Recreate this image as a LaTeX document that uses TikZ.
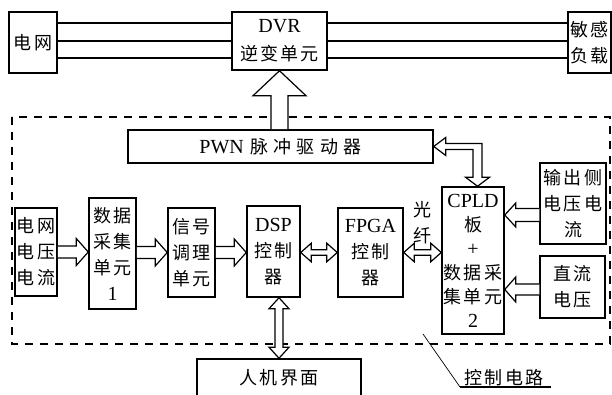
\documentclass[tikz,border=0pt]{standalone}
\usepackage{fontspec}
\setmainfont{Liberation Serif}
\newfontfamily\cjk[LetterSpace=12]{Noto Sans CJK SC}
\usetikzlibrary{calc}
\newcommand\lat[1]{{\rmfamily\fontsize{20}{26}\selectfont #1}}
% single arrows (canvas, y up)
\newcommand\arrR[5]{\draw[harr] let \p1=(#1),\p2=(#2) in (\x1,\y1+#3pt) -- (\x2-#5pt,\y1+#3pt) -- (\x2-#5pt,\y1+#4pt) -- (\x2,\y1) -- (\x2-#5pt,\y1-#4pt) -- (\x2-#5pt,\y1-#3pt) -- (\x1,\y1-#3pt);}
\newcommand\arrL[5]{\draw[harr] let \p1=(#1),\p2=(#2) in (\x1,\y1+#3pt) -- (\x2+#5pt,\y1+#3pt) -- (\x2+#5pt,\y1+#4pt) -- (\x2,\y1) -- (\x2+#5pt,\y1-#4pt) -- (\x2+#5pt,\y1-#3pt) -- (\x1,\y1-#3pt);}
\newcommand\arrU[5]{\draw[harr] let \p1=(#1),\p2=(#2) in (\x1+#3pt,\y1) -- (\x1+#3pt,\y2-#5pt) -- (\x1+#4pt,\y2-#5pt) -- (\x1,\y2) -- (\x1-#4pt,\y2-#5pt) -- (\x1-#3pt,\y2-#5pt) -- (\x1-#3pt,\y1);}
\newcommand\dblH[5]{\draw[harr] let \p1=(#1),\p2=(#2) in (\x1,\y1) -- (\x1+#5pt,\y1+#4pt) -- (\x1+#5pt,\y1+#3pt) -- (\x2-#5pt,\y1+#3pt) -- (\x2-#5pt,\y1+#4pt) -- (\x2,\y1) -- (\x2-#5pt,\y1-#4pt) -- (\x2-#5pt,\y1-#3pt) -- (\x1+#5pt,\y1-#3pt) -- (\x1+#5pt,\y1-#4pt) -- cycle;}
\newcommand\dblV[5]{\draw[harr] let \p1=(#1),\p2=(#2) in (\x1,\y1) -- (\x1+#4pt,\y1-#5pt) -- (\x1+#3pt,\y1-#5pt) -- (\x1+#3pt,\y2+#5pt) -- (\x1+#4pt,\y2+#5pt) -- (\x1,\y2) -- (\x1-#4pt,\y2+#5pt) -- (\x1-#3pt,\y2+#5pt) -- (\x1-#3pt,\y1-#5pt) -- (\x1-#4pt,\y1-#5pt) -- cycle;}
\tikzset{
  box/.style={draw, line width=1.5pt, rectangle, inner sep=0pt, align=center,
    font=\cjk\fontsize{18}{26}\selectfont},
  lbl/.style={inner sep=0pt, align=center, font=\cjk\fontsize{18}{26}\selectfont},
  harr/.style={draw, fill=white, line width=1.2pt, line join=miter},
  bus/.style={line width=1.8pt},
  dashbox/.style={line width=1.6pt, dash pattern=on 8pt off 7pt},
}
\begin{document}
\begin{tikzpicture}[x=1pt,y=1pt]
\useasboundingbox (0,0) rectangle (612,395);
% control circuit region
\draw[dashbox] (12,278) rectangle (610,51);
% top row
\node[box, minimum width=48pt, minimum height=61pt] (grid) at (33,352.5) {电网};
\node[box, minimum width=95pt, minimum height=58pt] (dvr) at (279.5,354) {\lat{DVR}\\[2pt]逆变单元};
\node[box, minimum width=43pt, minimum height=61pt] (load) at (589.5,352.5) {敏感\\负载};
\foreach \d/\n in {18/l1,0/l2,-17/l3}{
  \coordinate (\n) at ($(dvr.west)+(0,\d)$);
  \draw[bus] (\n -| grid.east) -- (\n);
  \draw[bus] (\n -| dvr.east) -- (\n -| load.west);
}
% control blocks
\node[box, minimum width=305pt, minimum height=33pt] (pwm) at (280.5,248.5) {\lat{PWN} \addfontfeature{LetterSpace=30}脉冲驱动器};
\node[box, minimum width=42pt, minimum height=88pt] (gv) at (36,143) {电网\\电压\\电流};
\node[box, minimum width=47pt, minimum height=111pt] (daq1) at (112.5,141.5) {数据\\采集\\单元\\\lat{1}};
\node[box, minimum width=47pt, minimum height=89pt] (sig) at (191.5,142.5) {信号\\调理\\单元};
\node[box, minimum width=53pt, minimum height=91pt] (dsp) at (273.5,143.5) {\lat{DSP}\\控制\\器};
\node[box, minimum width=65pt, minimum height=89pt] (fpga) at (370.5,142.5) {\lat{FPGA}\\控制\\器};
\node[box, minimum width=62pt, minimum height=147pt, font=\cjk\fontsize{18}{24}\selectfont] (cpld) at (473,134.5) {\lat{CPLD}\\板\\\lat{+}\\数据采\\集单元\\\lat{2}};
\node[box, minimum width=66pt, minimum height=81pt] (outv) at (573,191.5) {输出侧\\电压电\\流};
\node[box, minimum width=65pt, minimum height=62pt] (dcv) at (572.5,108) {直流\\电压};
\node[box, minimum width=164pt, minimum height=38pt] (hmi) at (279,17) {人机界面};
\node[lbl] (fiber) at (422,172) {光\\纤};
\node[lbl] (ctrl) at (504,17) {控制电路};
% arrows
\arrU{dvr.south |- pwm.north}{dvr.south}{8.5}{26.5}{25}
\arrR{gv.east}{gv.east -| daq1.west}{6}{13.5}{12}
\arrR{sig.west -| daq1.east}{sig.west}{6}{13.5}{12}
\arrR{sig.east}{sig.east -| dsp.west}{6}{13.5}{12}
\dblH{fpga.west -| dsp.east}{fpga.west}{2.7}{9.3}{10.5}
\dblH{fpga.east}{fpga.east -| cpld.west}{2.7}{9.3}{10.5}
\coordinate (a1) at ($(outv.west)+(0,-11.5)$);
\coordinate (a2) at ($(dcv.west)+(0,-2.5)$);
\arrL{a1}{a1 -| cpld.east}{6.5}{12}{11}
\arrL{a2}{a2 -| cpld.east}{5.5}{12.5}{11}
\dblV{hmi.north |- dsp.south}{hmi.north}{4}{10}{11}
\coordinate (bt) at ($(cpld.north)+(4.5,0)$);
\draw[harr] let \p1=(pwm.east), \p2=(bt) in
  (\x1,\y1) -- (\x1+12pt,\y1+9pt) -- (\x1+12pt,\y1+3pt) -- (\x2+4.5pt,\y1+3pt)
  -- (\x2+4.5pt,\y2+9pt) -- (\x2+12pt,\y2+9pt) -- (\x2,\y2) -- (\x2-12pt,\y2+9pt)
  -- (\x2-4.5pt,\y2+9pt) -- (\x2-4.5pt,\y1-3pt) -- (\x1+12pt,\y1-3pt)
  -- (\x1+12pt,\y1-9pt) -- cycle;
% leader for control circuit label
\coordinate (ls) at (423,61);
\coordinate (le) at (460,8);
\coordinate (le2) at (551,8);
\draw[line width=0.7pt] (ls) -- (le);
\draw[line width=1.5pt] (le) -- (le2);
\end{tikzpicture}
\end{document}
